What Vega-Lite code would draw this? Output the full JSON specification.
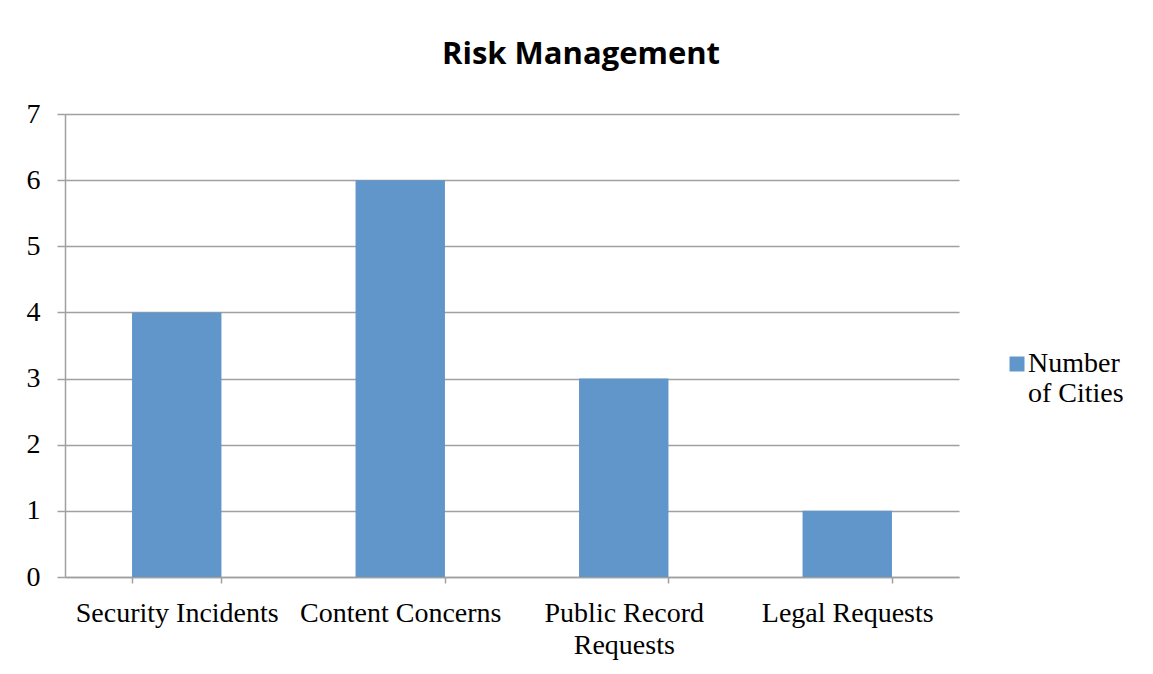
{
  "$schema": "https://vega.github.io/schema/vega-lite/v6.json",
  "autosize": {"type": "none"},
  "width": 894,
  "height": 463,
  "padding": {"left": 65, "top": 114, "right": 194, "bottom": 97},
  "background": "#ffffff",
  "title": {
    "text": "Risk Management",
    "font": "Open Sans",
    "fontSize": 31,
    "fontWeight": "bold",
    "color": "#000000",
    "anchor": "middle",
    "baseline": "alphabetic",
    "dx": 69,
    "offset": 5
  },
  "data": {
    "values": [
      {"category": "Security Incidents", "series": "Number of Cities", "value": 4},
      {"category": "Content Concerns", "series": "Number of Cities", "value": 6},
      {"category": "Public Record Requests", "series": "Number of Cities", "value": 3},
      {"category": "Legal Requests", "series": "Number of Cities", "value": 1}
    ]
  },
  "mark": {"type": "bar", "color": "#6096c9"},
  "encoding": {
    "x": {
      "field": "category",
      "type": "nominal",
      "sort": null,
      "scale": {"paddingInner": 0.6, "paddingOuter": 0.3},
      "axis": {
        "title": null,
        "labelAngle": 0,
        "labelFont": "Liberation Serif",
        "labelFontSize": 28,
        "labelColor": "#000000",
        "labelBaseline": "top",
        "labelPadding": 16,
        "labelLineHeight": 32,
        "labelLimit": 300,
        "labelExpr": "datum.label == 'Public Record Requests' ? ['Public Record', 'Requests'] : datum.label",
        "tickBand": "extent",
        "tickSize": 6,
        "tickColor": "#a0a0a0",
        "domainColor": "#a0a0a0",
        "grid": false
      }
    },
    "y": {
      "field": "value",
      "type": "quantitative",
      "scale": {"domain": [0, 7], "nice": false},
      "axis": {
        "title": null,
        "values": [0, 1, 2, 3, 4, 5, 6, 7],
        "labelFont": "Liberation Serif",
        "labelFontSize": 28,
        "labelColor": "#000000",
        "labelPadding": 17,
        "tickSize": 8,
        "tickColor": "#a0a0a0",
        "domainColor": "#a0a0a0",
        "grid": true,
        "gridColor": "#a0a0a0",
        "gridWidth": 1.5
      }
    },
    "fill": {
      "field": "series",
      "type": "nominal",
      "scale": {"range": ["#6096c9"]},
      "legend": {
        "title": null,
        "orient": "none",
        "legendX": 938,
        "legendY": 236,
        "symbolType": "square",
        "symbolSize": 225,
        "symbolStrokeWidth": 0,
        "labelFont": "Liberation Serif",
        "labelFontSize": 28,
        "labelColor": "#000000",
        "labelOffset": -3,
        "labelBaseline": "middle",
        "labelLimit": 200,
        "labelExpr": "['Number', 'of Cities']"
      }
    }
  },
  "config": {
    "view": {"stroke": null},
    "axis": {"domainWidth": 1.5, "tickWidth": 1.5}
  }
}
